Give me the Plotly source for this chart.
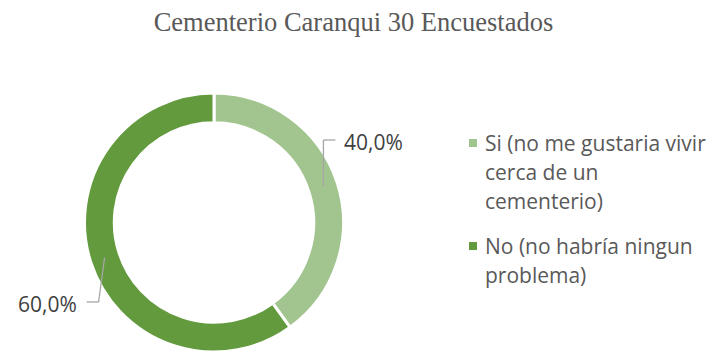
import math
import plotly.graph_objects as go

# Survey answers (share of 30 respondents)
categories = ["Si (no me gustaria vivir<br>cerca de un<br>cementerio)",
              "No (no habría ningun<br>problema)"]
values = [40.0, 60.0]
value_labels = ["40,0%", "60,0%"]
colors = ["#A2C58F", "#629A3D"]
title_text = "Cementerio Caranqui 30 Encuestados"

W, H = 707, 352

def px(x):
    return x / W

def py(y):
    return 1 - y / H

# Donut geometry (pixels): centre and outer radius follow from the domain
cx, top = 214, 93
r_out = 130
hole = 0.77
dom_x = [px(cx - r_out), px(cx + r_out)]
dom_y = [0, py(top)]
cy = H - r_out

fig = go.Figure()
fig.add_trace(go.Pie(
    labels=categories,
    values=values,
    hole=hole,
    sort=False,
    direction="clockwise",
    rotation=0,
    marker=dict(colors=colors, line=dict(color="white", width=3)),
    textinfo="none",
    hoverinfo="label+percent",
    showlegend=False,
    domain=dict(x=dom_x, y=dom_y),
))

shapes = []
annotations = []
sans = "Open Sans, Noto Sans, sans-serif"

# Data labels with leader lines starting at the middle of each ring segment
r_mid = r_out * (1 + hole) / 2
total = sum(values)
cum = 0.0
label_cfg = [
    dict(elbow_dx=0, elbow_y=140, end_dx=12, text_x=342, xanchor="left"),
    dict(elbow_dx=-6, elbow_y=302, end_dx=-12, text_x=79, xanchor="right"),
]
for v, txt, cfg in zip(values, value_labels, label_cfg):
    mid = (cum + v / 2) / total * 2 * math.pi
    cum += v
    sx = cx + r_mid * math.sin(mid)
    sy = cy - r_mid * math.cos(mid)
    ex = sx + cfg["elbow_dx"]
    ey = cfg["elbow_y"]
    hx = ex + cfg["end_dx"]
    line = dict(color="#A6A6A6", width=1.3)
    shapes.append(dict(type="line", xref="paper", yref="paper",
                       x0=px(sx), y0=py(sy), x1=px(ex), y1=py(ey), line=line))
    shapes.append(dict(type="line", xref="paper", yref="paper",
                       x0=px(ex), y0=py(ey), x1=px(hx), y1=py(ey), line=line))
    annotations.append(dict(
        x=px(cfg["text_x"]), y=py(ey + 2), xref="paper", yref="paper",
        text=txt, showarrow=False, xanchor=cfg["xanchor"], yanchor="middle",
        font=dict(family=sans, size=21, color="#404040"),
    ))

# Legend: square swatch plus wrapped label lines
legend_x = 473
legend_tops = [143, 246]
line_gap = 29
for cat, col, y0 in zip(categories, colors, legend_tops):
    shapes.append(dict(type="rect", xref="paper", yref="paper",
                       x0=px(legend_x - 4), x1=px(legend_x + 4),
                       y0=py(y0 - 4), y1=py(y0 + 4),
                       fillcolor=col, line=dict(width=0)))
    for i, part in enumerate(cat.split("<br>")):
        annotations.append(dict(
            x=px(483), y=py(y0 + i * line_gap), xref="paper", yref="paper",
            text=part, showarrow=False, xanchor="left", yanchor="middle",
            font=dict(family=sans, size=21, color="#595959"),
        ))

fig.update_layout(
    width=W, height=H,
    margin=dict(l=0, r=0, t=0, b=0, pad=0),
    paper_bgcolor="white",
    plot_bgcolor="white",
    title=dict(text=title_text, x=0.5, xanchor="center", xref="paper",
               y=py(22), yanchor="middle", yref="paper",
               font=dict(family="Liberation Serif, Times New Roman, serif",
                         size=26.5, color="#595959")),
    shapes=shapes,
    annotations=annotations,
)

fig.write_html("out.html")
